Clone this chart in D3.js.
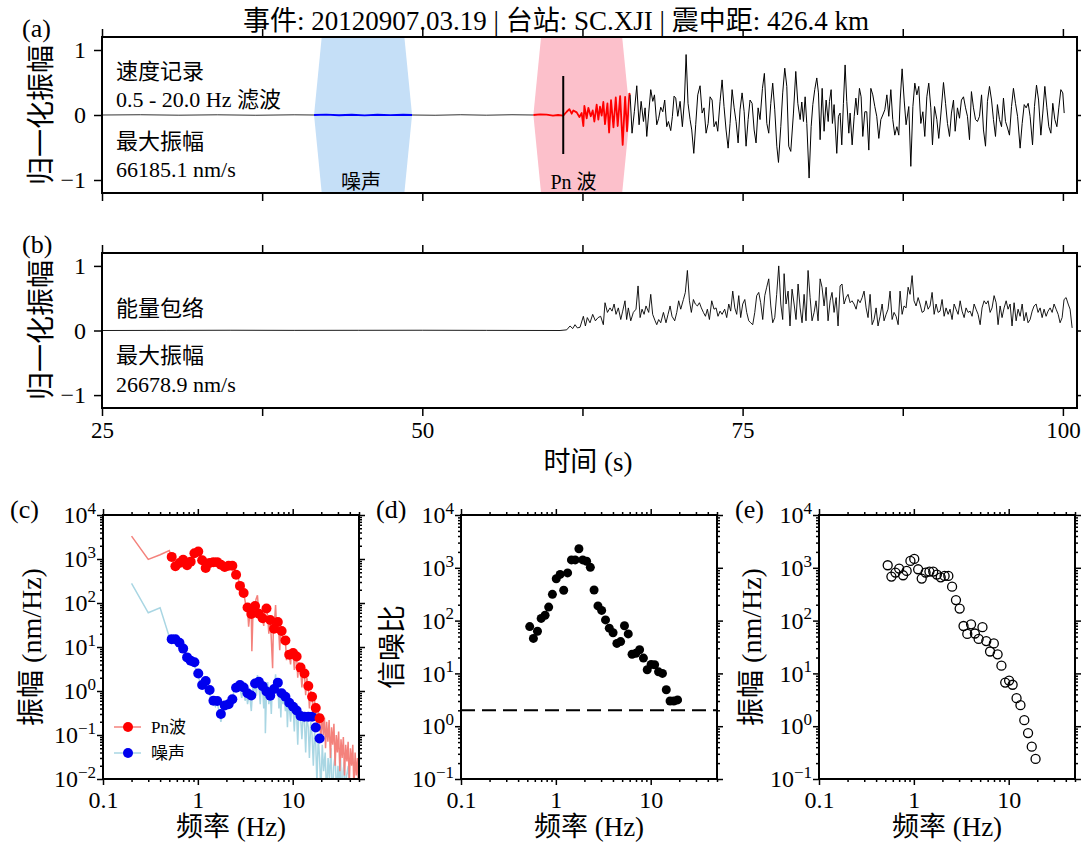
<!DOCTYPE html>
<html>
<head>
<meta charset="utf-8">
<script src="https://cdn.jsdelivr.net/npm/d3@7"></script>
<style>
  body { margin: 0; background: #fff; }
  svg { display: block; }
</style>
</head>
<body>
<main></main>
<script>
const serif = '"Liberation Serif", "Times New Roman", "Noto Sans CJK SC", serif';

// ---- waveform panels (a), (b) ----
const titleText = "事件: 20120907.03.19 | 台站: SC.XJI | 震中距: 426.4 km";
const timeTicks = [25, 37.5, 50, 62.5, 75, 87.5, 100];
const timeLabels = [25, 50, 75, 100];
const ampTicks = [-1, 0, 1];
const noiseWindow = [41.55, 49.2];
const pnWindow = [58.67, 66.2];
const pnPick = 61.0;

// [time s, normalised amplitude]
const quietA = [[25, 0], [28, 0.004], [31, -0.003], [34, 0.003], [37, -0.004], [40, 0.003], [41.55, 0]];
const noiseTrace = [[41.55, 0], [42.5, 0.005], [43.5, -0.004], [44.5, 0.004], [45.5, -0.005], [46.5, 0.004], [47.5, -0.003], [48.5, 0.004], [49.2, 0]];
const quietB = [[49.2, 0], [51, -0.004], [53, 0.004], [55, -0.003], [57, 0.004], [58.67, 0]];
const pnTrace = [[58.67, 0], [59.2, 0.01], [59.7, 0.005], [60.2, -0.01], [60.6, 0], [61.0, -0.01], [61.27, 0.05], [61.48, 0.09],
  [61.66, 0.02], [61.79, 0.07], [62.05, 0.04], [62.26, -0.03], [62.44, 0.03], [62.57, -0.17], [62.65, 0.14], [62.83, -0.05],
  [62.96, 0.11], [63.15, -0.02], [63.30, 0.07], [63.43, -0.10], [63.61, 0.16], [63.74, -0.07], [63.87, 0.13], [64.0, -0.01],
  [64.13, 0.2], [64.26, -0.14], [64.45, 0.18], [64.58, -0.27], [64.73, 0.23], [64.92, -0.19], [65.10, 0.27], [65.25, -0.17],
  [65.44, 0.29], [65.64, -0.46], [65.83, 0.28], [65.98, -0.25], [66.16, 0.33], [66.22, 0.31]];
const codaTrace = [[66.22, 0.31], [66.37, -0.28], [66.55, 0.05], [66.74, 0.45], [66.92, -0.15], [67.08, 0.21], [67.26, -0.10],
  [67.39, 0.11], [67.52, -0.33], [67.67, 0.03], [67.83, 0.39], [67.99, 0.21], [68.12, 0.31], [68.30, -0.15], [68.45, -0.05],
  [68.61, 0.12], [68.77, 0.05], [68.92, 0.23], [69.08, -0.18], [69.21, -0.10], [69.39, -0.24], [69.52, -0.02], [69.65, 0.29],
  [69.78, 0.26], [69.94, -0.02], [70.12, 0.21], [70.30, -0.18], [70.46, 0.23], [70.59, 0.93], [70.74, 0.18], [70.90, -0.07],
  [71.03, -0.23], [71.19, -0.59], [71.34, -0.15], [71.50, 0.31], [71.68, 0.45], [71.84, 0.03], [71.99, 0.11], [72.15, -0.28],
  [72.31, -0.13], [72.46, 0.28], [72.62, 0.23], [72.77, -0.18], [72.93, -0.10], [73.06, -0.25], [73.24, 0.21], [73.40, 0.54],
  [73.55, 0.13], [73.71, -0.23], [73.87, -0.51], [74.02, -0.13], [74.18, 0.39], [74.34, 0.11], [74.49, -0.10], [74.65, -0.43],
  [74.80, 0.08], [74.96, 0.34], [75.12, 0.05], [75.27, -0.48], [75.43, -0.07], [75.58, 0.23], [75.74, 0.18], [75.90, -0.23],
  [76.05, -0.43], [76.21, 0.11], [76.36, -0.07], [76.55, 0.41], [76.70, 0.64], [76.89, -0.13], [77.04, -0.28], [77.20, 0.18],
  [77.35, 0.49], [77.51, 0.08], [77.67, -0.48], [77.80, -0.73], [77.98, -0.18], [78.13, 0.34], [78.29, 0.72], [78.45, 0.44],
  [78.60, -0.48], [78.76, -0.56], [78.97, 0.03], [79.15, 0.67], [79.31, 0.18], [79.49, -0.07], [79.62, 0.20], [79.75, -0.10],
  [79.88, 0.28], [80.01, -0.13], [80.19, -0.97], [80.35, -0.18], [80.48, 0.16], [80.63, 0.39], [80.79, 0.57], [80.92, 0.34],
  [81.05, -0.38], [81.21, 0.41], [81.36, -0.25], [81.52, 0.23], [81.68, -0.10], [81.78, 0.21], [81.91, 0.39], [82.01, -0.13],
  [82.14, 0.16], [82.35, -0.59], [82.48, -0.02], [82.61, 0.03], [82.74, -0.46], [82.87, 0.18], [83.00, 0.77], [83.13, 0.21],
  [83.29, -0.28], [83.39, 0.03], [83.55, -0.46], [83.71, -0.02], [83.84, 0.26], [83.97, 0.00], [84.12, 0.41], [84.25, 0.28],
  [84.38, -0.33], [84.54, 0.05], [84.69, 0.05], [84.85, -0.54], [85.01, 0.41], [85.16, 0.31], [85.32, 0.13], [85.47, -0.02],
  [85.63, -0.36], [85.79, -0.07], [85.94, 0.00], [86.10, 0.08], [86.26, 0.31], [86.41, -0.02], [86.57, 0.39], [86.72, -0.07],
  [86.88, -0.31], [87.04, -0.18], [87.19, -0.31], [87.30, 0.23], [87.45, 0.71], [87.61, 0.23], [87.76, -0.15], [87.97, 0.13],
  [88.13, -0.79], [88.29, 0.13], [88.44, 0.49], [88.60, 0.31], [88.75, 0.44], [88.91, -0.13], [89.07, 0.05], [89.22, -0.33],
  [89.38, 0.28], [89.53, 0.49], [89.69, 0.11], [89.82, -0.46], [89.98, 0.13], [90.16, -0.07], [90.31, -0.36], [90.47, 0.00],
  [90.68, 0.50], [90.84, 0.18], [90.99, -0.13], [91.15, -0.33], [91.30, 0.03], [91.46, 0.23], [91.59, -0.25], [91.77, 0.11],
  [91.93, -0.05], [92.08, 0.23], [92.24, 0.28], [92.40, 0.11], [92.55, -0.02], [92.71, -0.38], [92.86, 0.36], [93.02, 0.11],
  [93.18, -0.07], [93.33, -0.10], [93.49, -0.02], [93.65, 0.31], [93.80, -0.23], [93.96, -0.48], [94.11, 0.21], [94.27, 0.44],
  [94.43, 0.23], [94.58, -0.07], [94.74, -0.33], [94.89, 0.16], [95.05, -0.07], [95.21, -0.18], [95.36, 0.26], [95.52, -0.10],
  [95.68, -0.20], [95.83, -0.31], [95.99, 0.13], [96.14, 0.41], [96.30, 0.18], [96.46, -0.02], [96.66, -0.51], [96.82, -0.13],
  [96.98, 0.16], [97.13, 0.11], [97.29, 0.18], [97.44, -0.02], [97.63, -0.46], [97.78, 0.13], [97.94, 0.46], [98.10, 0.23],
  [98.28, -0.31], [98.43, 0.03], [98.59, 0.44], [98.75, 0.11], [98.90, -0.18], [99.06, -0.28], [99.21, 0.18], [99.37, -0.07],
  [99.53, -0.18], [99.68, 0.11], [99.84, 0.39], [99.99, 0.34], [100.10, 0.03]];

// energy envelope (b)
const envQuiet = [[25, 0], [30, 0.002], [35, 0.004], [40, 0.002], [45, 0.003], [50, 0.004], [55, 0.002], [60.75, 0]];
const envTrace = [[60.75, 0], [61.27, .01], [61.53, .07], [61.74, .03], [61.92, .09], [62.10, .04], [62.31, .05], [62.57, .22],
  [62.73, .07], [62.88, .20], [63.09, .12], [63.30, .25], [63.51, .15], [63.72, .20], [63.92, .22], [64.13, .09], [64.26, .43],
  [64.45, .28], [64.65, .35], [64.81, .30], [64.97, .41], [65.12, .25], [65.30, .35], [65.49, .17], [65.64, .30], [65.82, .46],
  [65.95, .17], [66.08, .35], [66.27, .15], [66.47, .28], [66.68, .33], [66.84, .69], [67.00, .20], [67.15, .33], [67.31, .25],
  [67.46, .38], [67.67, .28], [67.83, .56], [67.98, .25], [68.17, .15], [68.30, .09], [68.45, .17], [68.61, .12], [68.82, .28],
  [69.02, .12], [69.18, .25], [69.34, .38], [69.49, .22], [69.70, .15], [69.86, .28], [70.01, .46], [70.17, .33], [70.38, .48],
  [70.53, .59], [70.69, .93], [70.85, .46], [71.00, .28], [71.16, .48], [71.31, .41], [71.47, .38], [71.63, .43], [71.78, .35],
  [71.94, .28], [72.10, .22], [72.25, .33], [72.41, .17], [72.59, .46], [72.77, .33], [72.93, .35], [73.08, .22], [73.24, .30],
  [73.40, .25], [73.60, .33], [73.76, .20], [73.92, .41], [74.07, .30], [74.23, .61], [74.39, .35], [74.54, .25], [74.70, .54],
  [74.85, .20], [75.01, .41], [75.17, .48], [75.32, .28], [75.48, .15], [75.63, .12], [75.79, .09], [75.95, .28], [76.10, .54],
  [76.26, .59], [76.41, .43], [76.57, .17], [76.73, .54], [76.88, .67], [77.04, .80], [77.20, .38], [77.35, .12], [77.51, .20],
  [77.66, .56], [77.82, 1.0], [77.98, .41], [78.13, .17], [78.24, .88], [78.39, .41], [78.55, .61], [78.70, .07], [78.86, .64],
  [79.02, .41], [79.17, .17], [79.33, .72], [79.49, .35], [79.64, .12], [79.80, .56], [79.95, .15], [80.11, .93], [80.27, .51],
  [80.42, .15], [80.58, .28], [80.73, .46], [80.89, .15], [81.05, .80], [81.20, .67], [81.36, .38], [81.52, .67], [81.67, .15],
  [81.83, .46], [81.98, .59], [82.14, .28], [82.30, .51], [82.45, .07], [82.61, .69], [82.76, .72], [82.92, .41], [83.08, .51],
  [83.23, .56], [83.39, .43], [83.54, .46], [83.70, .41], [83.86, .33], [84.01, .48], [84.17, .43], [84.33, .51], [84.48, .61],
  [84.64, .35], [84.79, .20], [84.95, .56], [85.11, .09], [85.26, .17], [85.42, .35], [85.57, .07], [85.73, .22], [85.89, .41],
  [86.04, .15], [86.20, .25], [86.35, .33], [86.51, .61], [86.67, .17], [86.82, .28], [86.98, .22], [87.14, .09], [87.29, .61],
  [87.45, .25], [87.60, .38], [87.76, .35], [87.92, .67], [88.07, .56], [88.23, .85], [88.38, .46], [88.54, .38], [88.70, .51],
  [88.85, .41], [89.01, .28], [89.16, .30], [89.32, .46], [89.48, .33], [89.63, .38], [89.79, .59], [89.95, .25], [90.10, .41],
  [90.26, .28], [90.41, .30], [90.57, .48], [90.73, .22], [90.88, .35], [91.04, .25], [91.19, .33], [91.35, .17], [91.51, .41],
  [91.66, .33], [91.82, .25], [91.98, .46], [92.13, .30], [92.29, .20], [92.44, .35], [92.60, .28], [92.76, .30], [92.91, .22],
  [93.07, .41], [93.22, .33], [93.38, .25], [93.54, .09], [93.69, .35], [93.85, .46], [94.01, .41], [94.16, .46], [94.32, .28],
  [94.47, .35], [94.63, .54], [94.79, .43], [94.94, .09], [95.10, .38], [95.25, .20], [95.41, .35], [95.57, .46], [95.72, .33],
  [95.88, .41], [96.03, .07], [96.19, .43], [96.35, .15], [96.50, .33], [96.66, .22], [96.82, .41], [96.97, .15], [97.13, .28],
  [97.28, .12], [97.44, .17], [97.60, .30], [97.75, .38], [97.91, .41], [98.06, .28], [98.22, .35], [98.38, .20], [98.53, .33],
  [98.69, .22], [98.84, .30], [99.00, .35], [99.16, .28], [99.31, .41], [99.47, .33], [99.63, .25], [99.78, .12], [99.94, .20],
  [100.09, .48], [100.25, .51], [100.41, .41], [100.56, .33], [100.72, .04]];

// ---- spectral panels (c), (d), (e) ----
const specFreq = [0.53, 0.58, 0.64, 0.70, 0.77, 0.84, 0.92, 1.01, 1.11, 1.21, 1.33, 1.46, 1.60, 1.75, 1.92, 2.11, 2.31, 2.53,
  2.78, 3.04, 3.34, 3.66, 4.01, 4.40, 4.82, 5.29, 5.80, 6.36, 6.97, 7.64, 8.38, 9.19, 10.1, 11.0, 12.1, 13.3, 14.6, 16.0, 17.5, 19.2];
const pnAmp = [1117, 682, 812, 966, 722, 871, 1349, 1472, 938, 625, 811, 848, 848, 743, 661, 701, 701, 440, 245, 169, 79, 56,
  85, 57, 45, 75, 41, 26, 37, 23, 14, 6.7, 7.3, 6.1, 3.4, 2.5, 1.3, 0.74, 0.41, 0.24];
const noiseAmp = [15.1, 15, 12.5, 9.2, 5.8, 4.9, 4.5, 2.5, 1.37, 1.69, 1.05, 0.60, 0.59, 0.30, 0.47, 0.50, 0.65, 1.19, 1.37,
  1.2, 0.89, 0.79, 1.48, 1.62, 1.29, 0.97, 0.78, 1.11, 1.55, 0.89, 0.74, 0.54, 0.44, 0.36, 0.27, 0.26, 0.26, 0.26, 0.148, 0.083];
const snr = [77, 46, 63, 110, 126, 180, 314, 620, 750, 376, 800, 1410, 1410, 2300, 1410, 1330, 1020, 380, 190, 156, 103, 72,
  59, 37, 40, 80, 56, 23, 24, 28, 19.5, 11.7, 14.8, 14.6, 10.7, 10, 4.9, 3.0, 3.0, 3.15];
const snrThreshold = 2;

// raw spectra [Hz, nm/Hz]
const pnSpectrum = [[0.2, 3300], [0.3, 980], [0.4, 1250], [0.5, 1550], [0.53, 1100], [0.56, 800], [0.58, 650], [0.61, 750],
  [0.64, 820], [0.67, 900], [0.70, 980], [0.73, 800], [0.76, 700], [0.80, 820], [0.84, 880], [0.88, 1100], [0.92, 1350],
  [0.96, 1400], [1.01, 1480], [1.05, 1150], [1.11, 930], [1.16, 700], [1.21, 620], [1.27, 780], [1.33, 820], [1.40, 860],
  [1.46, 850], [1.53, 830], [1.60, 850], [1.67, 760], [1.75, 740], [1.83, 640], [1.92, 660], [2.0, 620], [2.11, 700],
  [2.2, 720], [2.31, 690], [2.42, 600], [2.53, 440], [2.65, 380], [2.78, 250], [2.9, 200], [3.04, 170], [3.15, 110],
  [3.25, 70], [3.34, 80], [3.43, 29], [3.55, 60], [3.66, 56], [3.71, 8], [3.8, 45], [3.9, 85], [4.01, 80], [4.1, 120],
  [4.25, 150], [4.40, 57], [4.5, 40], [4.61, 55], [4.82, 45], [4.95, 30], [5.05, 60], [5.29, 75], [5.45, 50], [5.6, 20],
  [5.8, 41], [5.95, 15], [6.14, 3.3], [6.25, 26], [6.36, 26], [6.6, 90], [6.75, 30], [6.97, 37], [7.15, 20], [7.3, 8.5],
  [7.45, 25], [7.64, 23], [7.9, 12], [8.1, 16], [8.38, 14], [8.6, 5], [8.8, 7], [9.19, 6.7], [9.5, 4], [9.7, 8], [10.1, 7.3],
  [10.4, 3], [10.7, 6], [11.0, 6.1], [11.3, 2], [11.6, 4.5], [12.1, 3.4], [12.5, 1.2], [12.9, 3], [13.3, 2.5], [13.7, 0.8],
  [14.1, 2], [14.6, 1.3], [15.0, 0.4], [15.5, 1.0], [16.0, 0.74], [16.5, 0.25], [17.0, 0.6], [17.5, 0.41], [18.0, 0.15],
  [18.6, 0.35], [19.2, 0.24], [19.8, 0.08], [20.5, 0.3], [21, 0.1], [21.6, 0.25], [22.2, 0.05], [22.8, 0.2], [23.5, 0.07],
  [24.2, 0.22], [25, 0.03], [25.7, 0.15], [26.4, 0.06], [27.2, 0.18], [28, 0.02], [28.8, 0.1], [29.6, 0.04], [30.5, 0.12],
  [31.4, 0.015], [32.3, 0.08], [33.2, 0.03], [34.2, 0.09], [35.2, 0.012], [36.2, 0.06], [37.3, 0.025], [38.4, 0.07],
  [39.5, 0.008], [40.6, 0.05], [41.8, 0.02], [43, 0.06], [44.2, 0.006], [45.5, 0.04], [46.8, 0.012], [48.2, 0.03],
  [49.5, 0.005], [50, 0.02]];
const noiseSpectrum = [[0.2, 280], [0.3, 60], [0.4, 78], [0.5, 17], [0.53, 15], [0.56, 14], [0.58, 13], [0.61, 12],
  [0.64, 11.5], [0.67, 10], [0.70, 8.5], [0.73, 7], [0.77, 5.8], [0.80, 5], [0.84, 4.6], [0.88, 4.2], [0.92, 3.8], [0.96, 3],
  [1.01, 2.3], [1.05, 1.6], [1.11, 1.2], [1.16, 1.6], [1.21, 1.5], [1.27, 1.1], [1.33, 0.9], [1.40, 0.55], [1.46, 0.6],
  [1.53, 0.45], [1.60, 0.55], [1.67, 0.35], [1.75, 0.2], [1.83, 0.35], [1.92, 0.45], [2.0, 0.55], [2.11, 0.5], [2.2, 0.7],
  [2.31, 0.65], [2.42, 1.1], [2.53, 1.3], [2.65, 1.6], [2.78, 1.2], [2.9, 0.7], [3.04, 1.3], [3.15, 0.6], [3.25, 0.9],
  [3.34, 0.5], [3.5, 0.9], [3.66, 0.35], [3.8, 1.2], [3.9, 1.0], [4.01, 1.6], [4.15, 0.8], [4.25, 2.3], [4.40, 1.4],
  [4.55, 0.5], [4.68, 1.7], [4.82, 1.1], [4.95, 0.4], [5.1, 1.4], [5.15, 0.11], [5.29, 0.9], [5.45, 1.6], [5.6, 0.5],
  [5.8, 0.9], [5.95, 0.3], [6.1, 1.3], [6.36, 0.9], [6.6, 2.4], [6.8, 0.8], [6.97, 1.5], [7.15, 0.4], [7.3, 1.2], [7.5, 0.25],
  [7.64, 0.9], [7.9, 0.5], [8.1, 0.8], [8.38, 0.35], [8.6, 0.7], [8.8, 0.15], [9.0, 0.55], [9.19, 0.45], [9.5, 0.2],
  [9.8, 0.5], [10.1, 0.4], [10.4, 0.12], [10.7, 0.45], [11.0, 0.3], [11.3, 0.06], [11.6, 0.35], [12.1, 0.27], [12.5, 0.08],
  [12.9, 0.3], [13.3, 0.2], [13.7, 0.04], [14.1, 0.25], [14.6, 0.15], [15.0, 0.03], [15.5, 0.2], [16.0, 0.1], [16.5, 0.02],
  [17.0, 0.12], [17.5, 0.06], [18.0, 0.008], [18.6, 0.09], [19.2, 0.03], [19.8, 0.005], [20.5, 0.06], [21.2, 0.015],
  [22, 0.04], [22.8, 0.004], [23.6, 0.03], [24.4, 0.01], [25.3, 0.05], [26.2, 0.003], [27.1, 0.02], [28, 0.035], [29, 0.004],
  [30, 0.02], [31, 0.008], [32, 0.03], [33, 0.002], [34, 0.015], [35, 0.025], [36, 0.003], [37, 0.012], [38.5, 0.02],
  [40, 0.003], [41.5, 0.01], [43, 0.004], [44.5, 0.012], [46, 0.002], [47.5, 0.008], [50, 0.003]];

const svg = d3.select("main").append("svg")
    .attr("width", 1081)
    .attr("height", 850)
    .attr("font-family", serif);

const xT = d3.scaleLinear().domain([25, 101.1]).range([102, 1077]);
const yA = d3.scaleLinear().domain([-1.2, 1.2]).range([193, 37]);
const yB = d3.scaleLinear().domain([-1.2, 1.2]).range([408, 253]);

function minus(v) { return v < 0 ? "\u2212" + (-v) : String(v); }

function styleAxis(g, size) {
  g.attr("font-family", null).attr("font-size", null);
  g.selectAll(".domain").remove();
  g.selectAll(".tick line").attr("stroke-width", 1.5);
  g.selectAll(".tick text").attr("font-size", size).attr("font-family", serif).attr("fill", "#000");
}

function clipFor(id, x0, x1, y0, y1) {
  svg.append("clipPath").attr("id", id).append("rect")
      .attr("x", x0).attr("y", y0).attr("width", x1 - x0).attr("height", y1 - y0);
}

function waveAxes(g, y, showX) {
  const [yb, yt] = y.range();
  g.append("g").attr("transform", `translate(0,${yb})`)
      .call(d3.axisBottom(xT).tickValues(timeTicks).tickSize(8).tickPadding(6)
          .tickFormat(d => showX && timeLabels.includes(d) ? d : ""))
      .call(styleAxis, 23);
  g.append("g").attr("transform", `translate(0,${yt})`)
      .call(d3.axisTop(xT).tickValues(timeTicks).tickSize(8).tickFormat(""))
      .call(styleAxis, 23);
  g.append("g").attr("transform", `translate(${xT.range()[0]},0)`)
      .call(d3.axisLeft(y).tickValues(ampTicks).tickSize(8).tickPadding(8).tickFormat(minus))
      .call(styleAxis, 24);
  g.append("g").attr("transform", `translate(${xT.range()[1]},0)`)
      .call(d3.axisRight(y).tickValues(ampTicks).tickSize(6).tickFormat(""))
      .call(styleAxis, 23);
  g.append("rect")
      .attr("x", xT.range()[0]).attr("y", yt)
      .attr("width", xT.range()[1] - xT.range()[0]).attr("height", yb - yt)
      .attr("fill", "none").attr("stroke", "#000").attr("stroke-width", 2);
}

function addText(g, x, y, txt, size, anchor) {
  return g.append("text").attr("x", x).attr("y", y)
      .attr("font-size", size).attr("text-anchor", anchor || "start").text(txt);
}

function yTitle(x, y, txt) {
  svg.append("text")
      .attr("transform", `translate(${x},${y}) rotate(-90)`)
      .attr("text-anchor", "middle").attr("dominant-baseline", "central")
      .attr("font-size", 28).text(txt);
}

// ---------- panel (a) ----------
clipFor("clipA", 102, 1077, 37, 193);
const ga = svg.append("g");
const lineA = d3.line().x(d => xT(d[0])).y(d => yA(d[1]));
const winShape = w => [[w[0], 0], [w[0] + 0.6, 1.2], [w[1] - 0.6, 1.2], [w[1], 0], [w[1] - 0.6, -1.2], [w[0] + 0.6, -1.2]];
const plotA = ga.append("g").attr("clip-path", "url(#clipA)");
plotA.append("path").attr("d", lineA(winShape(noiseWindow)) + "Z").attr("fill", "#c5dff7");
plotA.append("path").attr("d", lineA(winShape(pnWindow)) + "Z").attr("fill", "#fcc0cb");
[[quietA, "#000", 0.8], [quietB, "#000", 0.8], [noiseTrace, "#0000ff", 1.8], [pnTrace, "#ff0000", 1.8], [codaTrace, "#000", 1]]
  .forEach(([data, color, w]) => {
    plotA.append("path").attr("d", lineA(data)).attr("fill", "none")
        .attr("stroke", color).attr("stroke-width", w).attr("stroke-linejoin", "round");
  });
plotA.append("line")
    .attr("x1", xT(pnPick)).attr("x2", xT(pnPick))
    .attr("y1", yA(0.6)).attr("y2", yA(-0.6))
    .attr("stroke", "#000").attr("stroke-width", 2);
addText(ga, xT((noiseWindow[0] + noiseWindow[1]) / 2) - 2, 189, "噪声", 20, "middle");
addText(ga, xT(61.8), 189, "Pn 波", 20, "middle");
addText(ga, 116, 79, "速度记录", 22);
addText(ga, 116, 107, "0.5 - 20.0 Hz 滤波", 22);
addText(ga, 116, 149, "最大振幅", 22);
addText(ga, 116, 177, "66185.1 nm/s", 22);
waveAxes(ga, yA, false);
addText(svg, 556, 30, titleText, 27, "middle");
addText(svg, 22, 37, "(a)", 26);
yTitle(41, 115, "归一化振幅");

// ---------- panel (b) ----------
clipFor("clipB", 102, 1077, 253, 408);
const gb = svg.append("g");
const lineB = d3.line().x(d => xT(d[0])).y(d => yB(d[1]));
const plotB = gb.append("g").attr("clip-path", "url(#clipB)");
[envQuiet, envTrace].forEach(data => {
  plotB.append("path").attr("d", lineB(data)).attr("fill", "none")
      .attr("stroke", "#000").attr("stroke-width", 0.9).attr("stroke-linejoin", "round");
});
addText(gb, 116, 316, "能量包络", 22);
addText(gb, 116, 363, "最大振幅", 22);
addText(gb, 116, 392, "26678.9 nm/s", 22);
waveAxes(gb, yB, true);
addText(svg, 22, 253, "(b)", 26);
yTitle(41, 330, "归一化振幅");
addText(svg, 588, 471, "时间 (s)", 27, "middle");

// ---------- log panels ----------
const isPow10 = d => Math.abs(Math.log10(d) - Math.round(Math.log10(d))) < 1e-6;

function logAxes(g, x, y, id) {
  const [xl, xr] = x.range(), [yb, yt] = y.range();
  const xMaj = x.ticks().filter(isPow10), xMin = x.ticks().filter(d => !isPow10(d));
  const yMaj = y.ticks().filter(isPow10), yMin = y.ticks().filter(d => !isPow10(d));
  [[d3.axisBottom, yb, true], [d3.axisTop, yt, false]].forEach(([ax, pos, lab]) => {
    g.append("g").attr("transform", `translate(0,${pos})`)
        .call(ax(x).tickValues(xMin).tickSize(3).tickFormat("")).call(styleAxis, 24);
    g.append("g").attr("transform", `translate(0,${pos})`)
        .call(ax(x).tickValues(xMaj).tickSize(6).tickPadding(6).tickFormat(d => lab ? d3.format("~g")(d) : ""))
        .call(styleAxis, 24);
  });
  [[d3.axisLeft, xl, true], [d3.axisRight, xr, false]].forEach(([ax, pos, lab]) => {
    g.append("g").attr("transform", `translate(${pos},0)`)
        .call(ax(y).tickValues(yMin).tickSize(3).tickFormat("")).call(styleAxis, 24);
    const a = g.append("g").attr("transform", `translate(${pos},0)`)
        .call(ax(y).tickValues(yMaj).tickSize(6).tickPadding(1).tickFormat(""))
        .call(styleAxis, 24);
    if (lab) {
      a.selectAll(".tick text").each(function (d) {
        const e = Math.round(Math.log10(d));
        const t = d3.select(this);
        t.append("tspan").text("10");
        t.append("tspan").attr("dy", "-0.55em").attr("font-size", 17).text(minus(e));
      });
    }
  });
  g.append("rect").attr("x", xl).attr("y", yt).attr("width", xr - xl).attr("height", yb - yt)
      .attr("fill", "none").attr("stroke", "#000").attr("stroke-width", 2);
  clipFor(id, xl, xr, yt, yb);
}

const panels = [
  {x0: 103, yDomain: [1e-2, 1e4], label: "(c)", lx: 10, ytitle: "振幅 (nm/Hz)", tx: 31},
  {x0: 461, yDomain: [1e-1, 1e4], label: "(d)", lx: 376, ytitle: "信噪比", tx: 392},
  {x0: 819, yDomain: [1e-1, 1e4], label: "(e)", lx: 735, ytitle: "振幅 (nm/Hz)", tx: 751}
];

panels.forEach((p, i) => {
  const x = d3.scaleLog().domain([0.1, 50]).range([p.x0, p.x0 + 256]);
  const y = d3.scaleLog().domain(p.yDomain).range([779, 515]);
  const g = svg.append("g");
  const plot = g.append("g").attr("clip-path", `url(#clipS${i})`);
  const line = d3.line().x(d => x(d[0])).y(d => y(d[1]));

  if (i === 0) {
    plot.append("path").attr("d", line(noiseSpectrum)).attr("fill", "none")
        .attr("stroke", "#a9d6e3").attr("stroke-width", 1.5);
    plot.append("path").attr("d", line(pnSpectrum)).attr("fill", "none")
        .attr("stroke", "#f4827c").attr("stroke-width", 1.5);
    plot.selectAll(".nd").data(specFreq).enter().append("circle")
        .attr("cx", d => x(d)).attr("cy", (d, k) => y(noiseAmp[k])).attr("r", 5).attr("fill", "#0000ee");
    plot.selectAll(".pd").data(specFreq).enter().append("circle")
        .attr("cx", d => x(d)).attr("cy", (d, k) => y(pnAmp[k])).attr("r", 5).attr("fill", "#ff0000");
    [["Pn波", "#f4827c", "#ff0000", 727], ["噪声", "#a9d6e3", "#0000ee", 753]].forEach(([name, lc, dc, ly]) => {
      g.append("line").attr("x1", 114).attr("x2", 141).attr("y1", ly).attr("y2", ly)
          .attr("stroke", lc).attr("stroke-width", 1.5);
      g.append("circle").attr("cx", 128).attr("cy", ly).attr("r", 5).attr("fill", dc);
      g.append("text").attr("x", 151).attr("y", ly).attr("dominant-baseline", "central")
          .attr("font-size", 17).text(name);
    });
  } else if (i === 1) {
    plot.append("line").attr("x1", x.range()[0]).attr("x2", x.range()[1])
        .attr("y1", y(snrThreshold)).attr("y2", y(snrThreshold))
        .attr("stroke", "#000").attr("stroke-width", 2).attr("stroke-dasharray", "14,7");
    plot.selectAll(".sd").data(specFreq).enter().append("circle")
        .attr("cx", d => x(d)).attr("cy", (d, k) => y(snr[k])).attr("r", 4.5).attr("fill", "#000");
  } else {
    plot.selectAll(".ed").data(specFreq).enter().append("circle")
        .attr("cx", d => x(d)).attr("cy", (d, k) => y(pnAmp[k])).attr("r", 4.5)
        .attr("fill", "none").attr("stroke", "#000").attr("stroke-width", 1.3);
  }

  logAxes(g, x, y, `clipS${i}`);
  addText(svg, p.lx, 518, p.label, 26);
  yTitle(p.tx, 647, p.ytitle);
  addText(svg, p.x0 + 128, 836, "频率 (Hz)", 27, "middle");
});
</script>
</body>
</html>
